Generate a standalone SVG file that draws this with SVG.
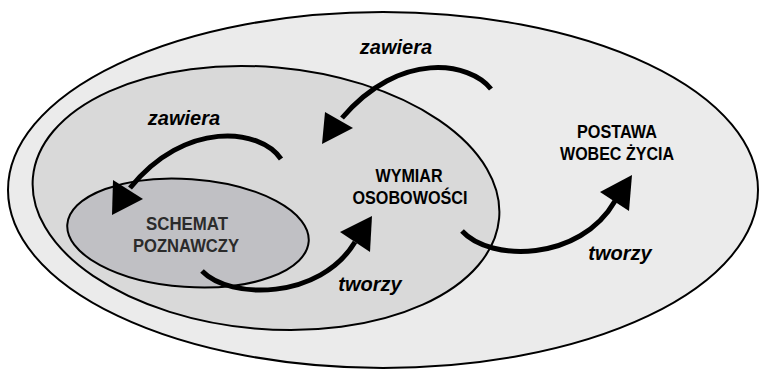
<svg xmlns="http://www.w3.org/2000/svg" width="763" height="372" viewBox="0 0 763 372">
<style>
.ell{stroke:#000;stroke-width:2}
.lbl{font-family:"Liberation Sans",Arial,sans-serif;font-weight:bold;font-size:17.5px;text-anchor:middle;fill:#000}
.it{font-family:"Liberation Sans",Arial,sans-serif;font-weight:bold;font-style:italic;font-size:20px;text-anchor:middle;fill:#000}
.arc{fill:none;stroke:#000;stroke-width:5}
.head{fill:#000}
</style>
<rect width="763" height="372" fill="#fff"/>
<g id="postawa">
<ellipse class="ell" cx="383" cy="190" rx="375" ry="178" fill="#ebebeb"/>
<text class="lbl" x="617" y="138" textLength="80" lengthAdjust="spacingAndGlyphs">POSTAWA</text>
<text class="lbl" x="617" y="160" textLength="114" lengthAdjust="spacingAndGlyphs">WOBEC ŻYCIA</text>
</g>
<g id="wymiar">
<ellipse class="ell" cx="266" cy="198" rx="234" ry="131" transform="rotate(5 266 198)" fill="#d9d9d9"/>
<text class="lbl" x="409" y="182" textLength="67" lengthAdjust="spacingAndGlyphs">WYMIAR</text>
<text class="lbl" x="410" y="204" textLength="115" lengthAdjust="spacingAndGlyphs">OSOBOWOŚCI</text>
</g>
<g id="schemat">
<ellipse class="ell" cx="188" cy="233" rx="121" ry="54" transform="rotate(4 188 233)" fill="#c0c0c4"/>
<text class="lbl" x="187" y="230" textLength="82" lengthAdjust="spacingAndGlyphs" style="fill:#2b2b2b">SCHEMAT</text>
<text class="lbl" x="186" y="252" textLength="106" lengthAdjust="spacingAndGlyphs" style="fill:#2b2b2b">POZNAWCZY</text>
</g>
<g id="connectors">
<path class="arc" d="M491,89 C470,62 400,50 342,118"/>
<polygon class="head" points="325,112 322,144 353,128"/>
<path class="arc" d="M281,159 C260,128 185,120 130,188"/>
<polygon class="head" points="113,180 112,215 143,199"/>
<path class="arc" d="M202,271 C230,300 320,300 355,242"/>
<polygon class="head" points="340,232 372,216 370,252"/>
<path class="arc" d="M462,231 C490,262 580,262 615,201"/>
<polygon class="head" points="600,192 632,175 629,211"/>
<text class="it" x="396" y="54">zawiera</text>
<text class="it" x="184" y="125">zawiera</text>
<text class="it" x="370" y="291">tworzy</text>
<text class="it" x="620" y="260">tworzy</text>
</g>
</svg>
